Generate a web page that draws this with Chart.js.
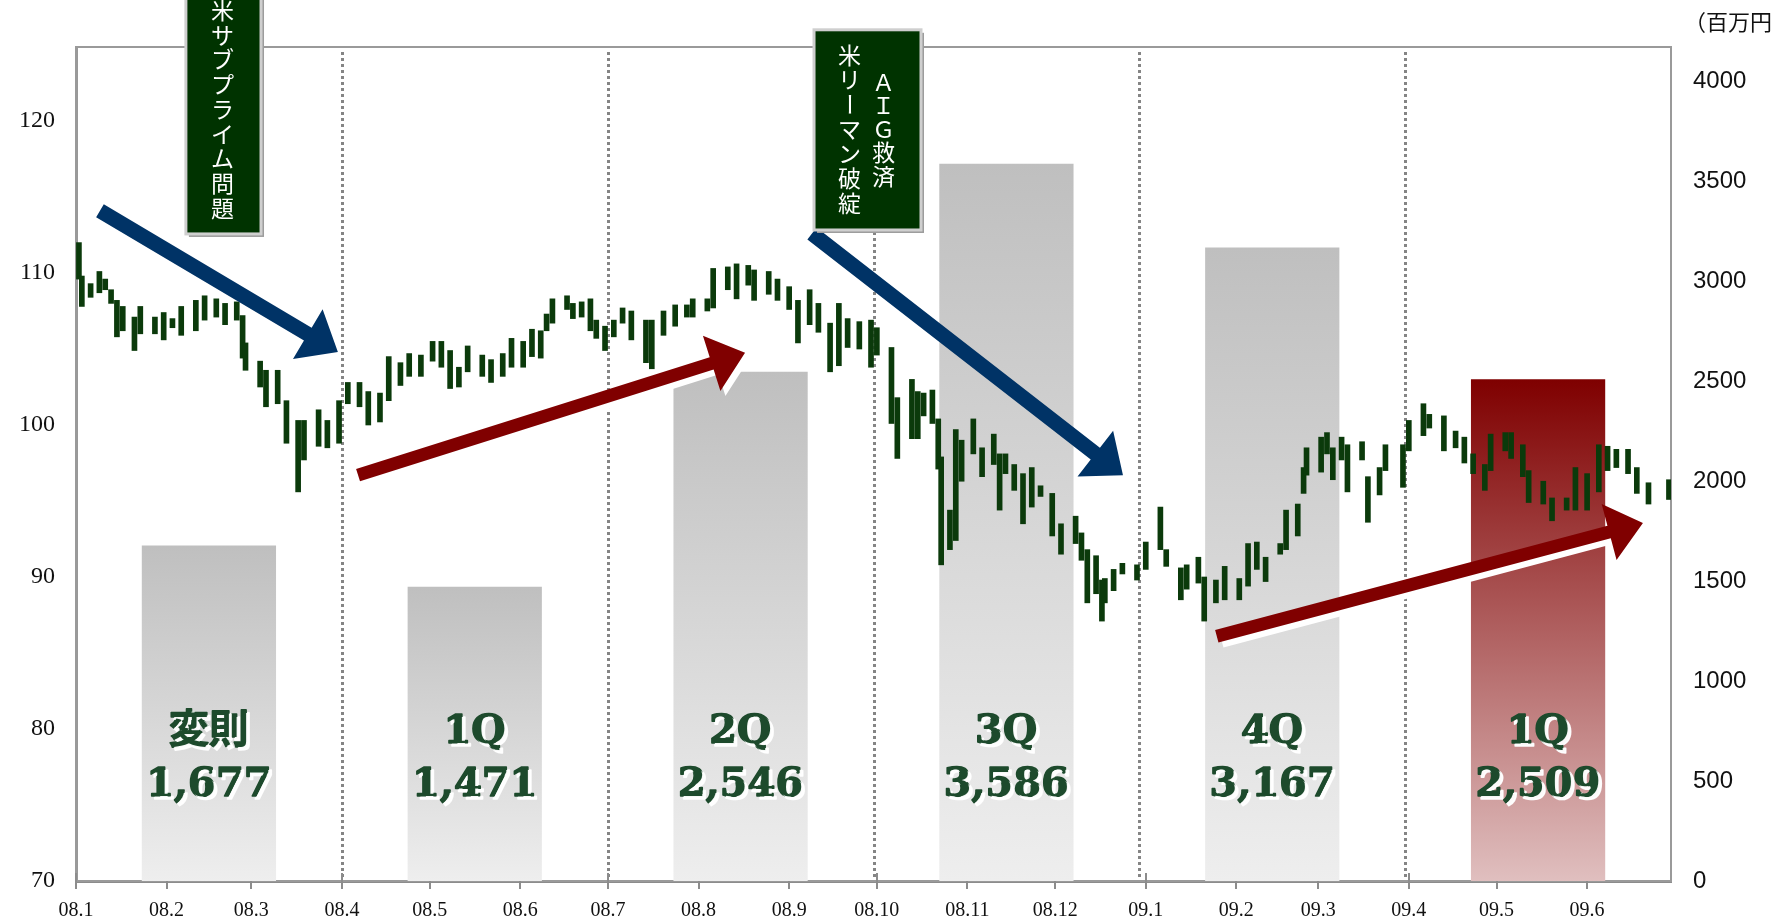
<!DOCTYPE html>
<html lang="ja">
<head>
<meta charset="utf-8">
<title>ドル円相場と四半期売上高</title>
<script src="https://cdn.jsdelivr.net/npm/chart.js@4.4.1/dist/chart.umd.min.js"></script>
<style>
  html, body { margin: 0; padding: 0; background: #fff; }
  #wrap { width: 1787px; height: 920px; }
</style>
</head>
<body>
<div id="wrap"><canvas id="chart" width="1787" height="920"></canvas></div>
<script>
// x axis: days since 2008-01-01, one tick per month start
const monthLabels = ['08.1', '08.2', '08.3', '08.4', '08.5', '08.6', '08.7', '08.8', '08.9', '08.10', '08.11', '08.12', '09.1', '09.2', '09.3', '09.4', '09.5', '09.6']
const monthStarts = [0, 31, 60, 91, 121, 152, 182, 213, 244, 274, 305, 335, 366, 397, 425, 456, 486, 517]
const lastDay = 545.7

const leftTicks = [70, 80, 90, 100, 110, 120]
const rightTicks = [0, 500, 1000, 1500, 2000, 2500, 3000, 3500, 4000]

// quarterly sales (百万円)
const quarterLabels = ['変則', '1Q', '2Q', '3Q', '4Q', '1Q']
const quarterSales = [1677, 1471, 2546, 3586, 3167, 2509]

// USD/JPY high-low ranges
const priceDays = [
  1, 2, 5, 8, 10, 12, 14, 16, 20, 22, 27, 30, 33, 36, 41, 44, 48, 51, 55, 57,
  58, 63, 65, 69, 72, 76, 78, 83, 86, 90, 93, 97, 100, 104, 107, 111, 114, 118, 122, 125,
  128, 131, 134, 139, 142, 146, 149, 153, 156, 159, 161, 163, 168, 170, 173, 176, 178, 181, 184, 187,
  190, 195, 197, 201, 205, 209, 211, 216, 218, 223, 226, 230, 232, 237, 240, 244, 247, 251, 254, 258,
  261, 264, 268, 272, 274, 279, 281, 286, 288, 290, 293, 295, 296, 299, 301, 303, 307, 310, 314, 316,
  318, 321, 324, 327, 330, 334, 337, 342, 344, 346, 349, 351, 352, 355, 358, 363, 366, 371, 373, 378,
  380, 384, 386, 390, 393, 398, 401, 404, 407, 412, 414, 418, 420, 421, 426, 428, 430, 433, 435, 440,
  442, 446, 448, 454, 456, 461, 463, 468, 472, 475, 478, 482, 484, 489, 491, 495, 497, 502, 505, 510,
  513, 517, 521, 524, 527, 531, 534, 538, 545,
]
const priceHighs = [
  112.0, 109.8, 109.3, 110.1, 109.6, 108.9, 108.2, 107.8, 107.1, 107.8, 107.1, 107.4, 107.0, 107.8, 108.2, 108.5, 108.3, 108.0, 108.1, 107.2,
  105.4, 104.2, 103.6, 103.6, 101.6, 100.3, 100.3, 101.0, 100.3, 101.6, 102.8, 102.8, 102.2, 102.1, 104.5, 104.1, 104.7, 104.6, 105.5, 105.5,
  104.9, 103.8, 105.2, 104.6, 104.3, 104.7, 105.7, 105.5, 106.3, 106.2, 107.3, 108.3, 108.5, 108.0, 108.1, 108.3, 106.9, 106.5, 106.9, 107.7,
  107.5, 106.9, 106.9, 107.5, 107.9, 107.9, 108.3, 108.3, 110.3, 110.4, 110.6, 110.5, 110.2, 110.1, 109.6, 109.1, 108.2, 108.9, 108.0, 106.7,
  108.0, 107.0, 106.8, 106.9, 106.4, 105.1, 101.8, 103.0, 102.2, 102.1, 102.3, 100.4, 97.9, 94.4, 99.7, 99.0, 100.4, 98.5, 99.4, 98.1,
  98.1, 97.4, 96.8, 97.2, 96.0, 95.5, 93.5, 94.0, 92.9, 91.8, 91.4, 89.8, 89.9, 90.5, 90.9, 90.8, 92.3, 94.6, 91.8, 90.6,
  90.8, 91.3, 90.0, 89.8, 90.7, 89.9, 92.2, 92.3, 91.3, 92.2, 94.4, 94.8, 97.2, 98.5, 99.2, 99.5, 98.5, 99.2, 98.7, 98.9,
  96.6, 97.2, 98.7, 98.7, 100.3, 101.4, 100.7, 100.6, 99.6, 99.2, 98.1, 97.4, 99.4, 99.5, 99.5, 98.7, 97.0, 96.3, 95.2, 95.2,
  97.2, 96.8, 98.7, 98.6, 98.4, 98.4, 97.2, 96.2, 96.4,
]
const priceLows = [
  109.6, 107.8, 108.4, 108.7, 108.9, 108.0, 105.8, 106.2, 104.9, 106.0, 106.0, 105.6, 106.4, 105.9, 106.2, 106.9, 107.1, 106.6, 106.9, 104.4,
  103.6, 102.5, 101.2, 101.4, 98.8, 95.6, 97.7, 98.6, 98.5, 98.8, 101.4, 101.2, 100.0, 100.2, 101.6, 102.6, 103.2, 103.2, 104.2, 103.8,
  102.4, 102.5, 103.5, 103.2, 102.8, 103.2, 103.8, 103.8, 104.5, 104.4, 106.2, 106.7, 107.6, 107.0, 107.1, 106.2, 105.7, 104.9, 105.8, 106.7,
  105.6, 104.1, 103.7, 105.9, 106.5, 107.1, 107.1, 107.5, 107.7, 108.9, 108.3, 109.2, 108.2, 108.6, 108.2, 107.6, 105.4, 106.6, 106.1, 103.5,
  103.9, 105.1, 105.0, 103.8, 104.6, 100.1, 97.8, 99.1, 99.1, 100.6, 100.1, 97.1, 90.8, 91.8, 92.4, 96.3, 98.1, 96.6, 97.4, 94.4,
  96.8, 95.7, 93.5, 94.6, 95.3, 92.7, 91.5, 92.2, 91.1, 88.3, 88.9, 87.1, 88.3, 89.1, 90.2, 89.8, 90.5, 91.8, 90.7, 88.5,
  89.2, 89.6, 87.1, 88.3, 88.5, 88.5, 89.4, 90.5, 89.7, 91.5, 91.8, 92.7, 95.5, 96.7, 96.9, 98.1, 96.4, 97.7, 95.6, 97.7,
  93.6, 95.4, 97.0, 95.9, 98.3, 99.3, 99.8, 98.3, 98.5, 97.5, 96.8, 95.7, 97.0, 98.3, 97.8, 96.6, 94.9, 94.8, 93.7, 94.4,
  94.4, 94.4, 95.6, 97.0, 97.2, 96.8, 95.5, 94.8, 95.1,
]

// trend arrows, [day, price]
const arrows = [
  { from: [8.2, 114.1], to: [89.6, 104.8], color: '#003366', width: 15, shadow: false },
  { from: [96.5, 96.7], to: [228.9, 104.75], color: '#800000', width: 13, shadow: true },
  { from: [251.8, 112.6], to: [358.2, 96.7], color: '#003366', width: 15, shadow: false },
  { from: [390.3, 86.1], to: [536.1, 93.55], color: '#800000', width: 13, shadow: true },
]

// event notes, box corners as [day, price]
const notes = [
  {
    from: [37.6, 128.6], to: [63.3, 112.57],
    columns: [{ text: '米サブプライム問題', dx: -1, top: 20, step: 24.7 }],
  },
  {
    from: [252.5, 126.0], to: [289.1, 112.83],
    columns: [
      { text: '米リーマン破綻', dx: -18, top: 25, step: 24.7 },
      { text: 'ＡＩＧ救済', dx: 16, top: 52, step: 23.5 },
    ],
  },
]

const GRAY_AXIS = '#8c8c8c'
const LABEL_GREEN = '#1d4a2c'

const barGradient = (c) => {
  const { chart, dataIndex } = c
  const yR = chart.scales.yR
  if (!chart.chartArea || !yR) return '#c8c8c8'
  const top = yR.getPixelForValue(quarterSales[dataIndex])
  const bottom = yR.getPixelForValue(0)
  const g = chart.ctx.createLinearGradient(0, top, 0, bottom)
  if (dataIndex === quarterSales.length - 1) {
    g.addColorStop(0, '#7f0000')
    g.addColorStop(1, '#e0bfbf')
  } else {
    g.addColorStop(0, '#bfbfbf')
    g.addColorStop(1, '#eeeeee')
  }
  return g
}

const drawArrow = (ctx, x1, y1, x2, y2, width, color, shadow) => {
  const ang = Math.atan2(y2 - y1, x2 - x1)
  const len = Math.hypot(x2 - x1, y2 - y1)
  const headLen = 35
  const headHalf = 29
  ctx.save()
  if (shadow) {
    ctx.shadowColor = '#ffffff'
    ctx.shadowOffsetX = 5
    ctx.shadowOffsetY = 5
    ctx.shadowBlur = 0
  }
  ctx.translate(x1, y1)
  ctx.rotate(ang)
  ctx.beginPath()
  ctx.moveTo(0, -width / 2)
  ctx.lineTo(len - headLen, -width / 2)
  ctx.lineTo(len - headLen, -headHalf)
  ctx.lineTo(len, 0)
  ctx.lineTo(len - headLen, headHalf)
  ctx.lineTo(len - headLen, width / 2)
  ctx.lineTo(0, width / 2)
  ctx.closePath()
  ctx.fillStyle = color
  ctx.fill()
  ctx.restore()
}

const overlay = {
  id: 'overlay',
  beforeDatasetsDraw(chart) {
    const { ctx, chartArea: a, scales } = chart
    ctx.save()
    // quarter separators, dotted, at the category boundaries
    const xq = scales.xq
    const half = (xq.getPixelForValue(1) - xq.getPixelForValue(0)) / 2
    ctx.strokeStyle = '#858585'
    ctx.lineWidth = 3
    ctx.setLineDash([3, 3])
    for (let i = 1; i < quarterLabels.length; i++) {
      const px = Math.round(xq.getPixelForValue(i) - half) + 0.5
      ctx.beginPath()
      ctx.moveTo(px, a.top + 5)
      ctx.lineTo(px, a.bottom)
      ctx.stroke()
    }
    ctx.setLineDash([])
    // plot frame
    ctx.strokeStyle = '#9a9a9a'
    ctx.lineWidth = 2
    ctx.strokeRect(a.left, a.top, a.right - a.left, a.bottom - a.top)
    // month tick marks crossing the axis
    ctx.strokeStyle = GRAY_AXIS
    ctx.lineWidth = 2
    scales.x.ticks.forEach((t) => {
      const px = Math.round(scales.x.getPixelForValue(t.value))
      ctx.beginPath()
      ctx.moveTo(px, a.bottom - 8)
      ctx.lineTo(px, a.bottom + 8)
      ctx.stroke()
    })
    ctx.restore()
  },
  afterDatasetsDraw(chart) {
    const { ctx, chartArea: a, scales } = chart
    const { x, y, xq } = scales

    // quarter captions inside the bars
    ctx.save()
    ctx.textAlign = 'center'
    ctx.textBaseline = 'middle'
    ctx.fillStyle = LABEL_GREEN
    ctx.strokeStyle = LABEL_GREEN
    ctx.lineWidth = 1.6
    ctx.lineJoin = 'round'
    ctx.shadowColor = 'rgba(255,255,255,0.95)'
    ctx.shadowOffsetX = 3
    ctx.shadowOffsetY = 3
    ctx.shadowBlur = 0
    ctx.font = 'bold 40px "DejaVu Serif", "Noto Sans CJK JP", serif'
    quarterLabels.forEach((label, i) => {
      const px = xq.getPixelForValue(i)
      const value = quarterSales[i].toLocaleString('en-US')
      ctx.strokeText(label, px, a.bottom - 148)
      ctx.fillText(label, px, a.bottom - 148)
      ctx.strokeText(value, px, a.bottom - 95)
      ctx.fillText(value, px, a.bottom - 95)
    })
    ctx.restore()

    arrows.forEach((ar) => {
      drawArrow(
        ctx,
        x.getPixelForValue(ar.from[0]), y.getPixelForValue(ar.from[1]),
        x.getPixelForValue(ar.to[0]), y.getPixelForValue(ar.to[1]),
        ar.width, ar.color, ar.shadow,
      )
    })

    notes.forEach((n) => {
      const x1 = x.getPixelForValue(n.from[0])
      const y1 = y.getPixelForValue(n.from[1])
      const x2 = x.getPixelForValue(n.to[0])
      const y2 = y.getPixelForValue(n.to[1])
      ctx.save()
      ctx.fillStyle = '#9c9c9c'
      ctx.fillRect(x1 + 3, y1 + 3, x2 - x1, y2 - y1)
      ctx.fillStyle = '#003300'
      ctx.fillRect(x1, y1, x2 - x1, y2 - y1)
      ctx.strokeStyle = '#cfcfcf'
      ctx.lineWidth = 3
      ctx.strokeRect(x1, y1, x2 - x1, y2 - y1)
      ctx.fillStyle = '#ffffff'
      ctx.font = '23px "Noto Sans CJK JP", sans-serif'
      ctx.textAlign = 'center'
      ctx.textBaseline = 'middle'
      const cx = (x1 + x2) / 2
      n.columns.forEach((col) => {
        Array.from(col.text).forEach((ch, k) => {
          const px = cx + col.dx
          const py = y1 + col.top + k * col.step
          if (ch === 'ー') {
            ctx.save()
            ctx.translate(px, py)
            ctx.rotate(Math.PI / 2)
            ctx.fillText(ch, 0, 0)
            ctx.restore()
          } else {
            ctx.fillText(ch, px, py)
          }
        })
      })
      ctx.restore()
    })

    // unit of the right axis
    ctx.save()
    ctx.fillStyle = '#111'
    ctx.font = '22px "Noto Sans CJK JP", sans-serif'
    ctx.textAlign = 'left'
    ctx.textBaseline = 'middle'
    ctx.fillText('（百万円', 1684, 22)
    ctx.restore()
  },
}

new Chart(document.getElementById('chart'), {
  data: {
    labels: quarterLabels,
    datasets: [
      {
        type: 'bar',
        label: '売上高',
        data: quarterSales,
        xAxisID: 'xq',
        yAxisID: 'yR',
        backgroundColor: barGradient,
        barPercentage: 0.505,
        categoryPercentage: 1,
        grouped: false,
        order: 2,
      },
      {
        type: 'bar',
        label: 'USD/JPY',
        data: priceDays.map((d, i) => ({ x: d, y: [priceLows[i], priceHighs[i]] })),
        xAxisID: 'x',
        yAxisID: 'y',
        backgroundColor: '#0b3a0b',
        barThickness: 5,
        grouped: false,
        order: 1,
      },
    ],
  },
  options: {
    responsive: false,
    animation: false,
    layout: { padding: { top: 47, left: 0, right: 0, bottom: 0 } },
    plugins: {
      legend: { display: false },
      tooltip: { enabled: false },
    },
    scales: {
      x: {
        type: 'linear',
        position: 'bottom',
        min: 0,
        max: lastDay,
        offset: false,
        afterBuildTicks: (s) => { s.ticks = monthStarts.map((v) => ({ value: v })) },
        afterFit: (s) => { s.height = 39 },
        grid: { offset: false, drawOnChartArea: false, drawTicks: false },
        border: { color: GRAY_AXIS, width: 3 },
        ticks: {
          callback: (v, i) => monthLabels[i],
          padding: 18,
          autoSkip: false,
          maxRotation: 0,
          color: '#111',
          font: { family: '"Liberation Serif", serif', size: 20 },
        },
      },
      xq: {
        type: 'category',
        position: 'bottom',
        offset: true,
        afterFit: (s) => { s.height = 0 },
        grid: { display: false, offset: true },
        border: { display: false },
        ticks: { display: false },
      },
      y: {
        type: 'linear',
        position: 'left',
        min: 70,
        max: 70 + 834 / 15.2,
        afterBuildTicks: (s) => { s.ticks = leftTicks.map((v) => ({ value: v })) },
        afterFit: (s) => { s.width = 76 },
        grid: { display: false, drawTicks: false },
        border: { color: '#999', width: 3 },
        ticks: {
          padding: 21,
          color: '#111',
          font: { family: '"Liberation Serif", serif', size: 24 },
        },
      },
      yR: {
        type: 'linear',
        position: 'right',
        min: 0,
        max: 834 / 0.2,
        afterBuildTicks: (s) => { s.ticks = rightTicks.map((v) => ({ value: v })) },
        afterFit: (s) => { s.width = 116 },
        grid: { display: false, drawTicks: false },
        border: { display: false },
        ticks: {
          padding: 22,
          color: '#111',
          callback: (v) => String(v),
          font: { family: '"Liberation Sans", sans-serif', size: 24 },
        },
      },
    },
  },
  plugins: [overlay],
})
</script>
</body>
</html>
